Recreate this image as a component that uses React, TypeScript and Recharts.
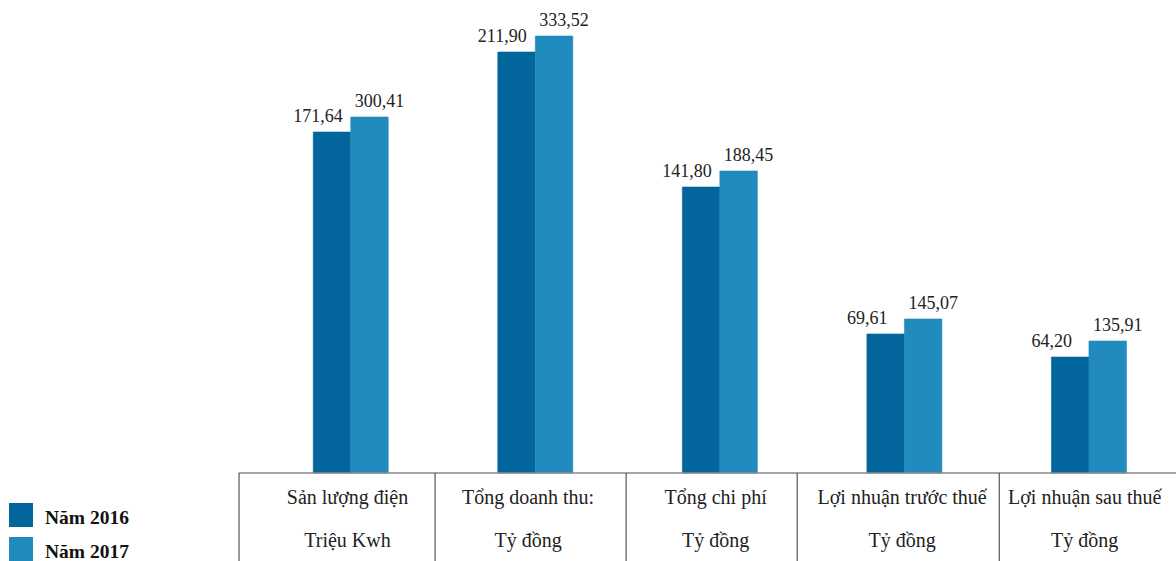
import React from "react";
import { BarChart, Bar, XAxis, YAxis, Legend, LabelList } from "recharts";

// category rows of the table under the chart (two lines each)
const categories = [
  "Sản lượng điện",
  "Tổng doanh thu:",
  "Tổng chi phí",
  "Lợi nhuận trước thuế",
  "Lợi nhuận sau thuế",
];
const units = ["Triệu Kwh", "Tỷ đồng", "Tỷ đồng", "Tỷ đồng", "Tỷ đồng"];

// printed values
const labels2016 = ["171,64", "211,90", "141,80", "69,61", "64,20"];
const labels2017 = ["300,41", "333,52", "188,45", "145,07", "135,91"];

// bar heights as drawn in the picture (the source chart is not to scale)
const bars2016 = [170.5, 210.5, 143, 69.5, 58];
const bars2017 = [178, 218.5, 151, 77, 66];

const C2016 = "#02669c";
const C2017 = "#228bbd";
const FONT = "'Liberation Serif', 'Times New Roman', serif";

// table column borders, relative to each tick
const dividerShift = [-111.5, -100, -93.5, -107, -89.5];
const textShift = [-3, -7, -4, -2, -4];

const data = categories.map((c, i) => ({
  name: c,
  unit: units[i],
  y2016: bars2016[i],
  y2017: bars2017[i],
  l2016: labels2016[i],
  l2017: labels2017[i],
}));

const TableTick = (props: any) => {
  const { x, y, payload, index } = props;
  const top = y; // axis line y
  const cx = x + textShift[index];
  return (
    <g>
      <line
        x1={x + dividerShift[index]}
        x2={x + dividerShift[index]}
        y1={top}
        y2={top + 90}
        stroke="#333"
        strokeWidth={1}
      />
      <text x={cx} y={top + 31} textAnchor="middle" fontSize={20} fill="#222" fontFamily={FONT}>
        {payload.value}
      </text>
      <text x={cx} y={top + 74} textAnchor="middle" fontSize={20} fill="#222" fontFamily={FONT}>
        {units[index]}
      </text>
    </g>
  );
};

const label2016 = (p: any) => (
  <text x={p.x - 20} y={p.y - 10} textAnchor="start" fontSize={18} fill="#222" fontFamily={FONT}>
    {p.value}
  </text>
);
const label2017 = (p: any) => (
  <text x={p.x + 4} y={p.y - 10} textAnchor="start" fontSize={18} fill="#222" fontFamily={FONT}>
    {p.value}
  </text>
);

const LegendBox = (props: any) => (
  <div style={{ fontFamily: FONT }}>
    {props.payload.map((e: any) => (
      <div key={e.value} style={{ display: "flex", alignItems: "center", height: 24, marginBottom: 10 }}>
        <span style={{ display: "inline-block", width: 24, height: 24, background: e.color }} />
        <span
          style={{
            marginLeft: 12,
            marginTop: 6,
            fontWeight: "bold",
            fontSize: 19.5,
            color: "#111",
            whiteSpace: "nowrap",
          }}
        >
          {e.value}
        </span>
      </div>
    ))}
  </div>
);

export default function App() {
  return (
    <div style={{ position: "absolute", left: 0, top: 0, width: 1176, height: 561, overflow: "hidden", background: "#fff" }}>
      <BarChart
        width={1181}
        height={561}
        data={data}
        margin={{ top: 0, right: 0, bottom: 0, left: 239 }}
        barGap={0}
        barSize={37.5}
      >
        <XAxis
          dataKey="name"
          height={88}
          padding={{ left: 19.25, right: 0 }}
          axisLine={{ stroke: "#8a8a8a", strokeWidth: 1.5 }}
          tickLine={false}
          tickSize={0}
          tickMargin={0}
          interval={0}
          tick={<TableTick />}
        />
        <YAxis hide domain={[0, 236.5]} />
        <Legend
          layout="horizontal"
          verticalAlign="middle"
          align="center"
          content={<LegendBox />}
          wrapperStyle={{ left: 9, top: 503, width: 200, height: 58 }}
        />
        <Bar dataKey="y2016" name="Năm 2016" fill={C2016} stroke={C2016} strokeWidth={0.6} isAnimationActive={false}>
          <LabelList dataKey="l2016" content={label2016} />
        </Bar>
        <Bar dataKey="y2017" name="Năm 2017" fill={C2017} stroke={C2017} strokeWidth={0.6} isAnimationActive={false}>
          <LabelList dataKey="l2017" content={label2017} />
        </Bar>
      </BarChart>
    </div>
  );
}
